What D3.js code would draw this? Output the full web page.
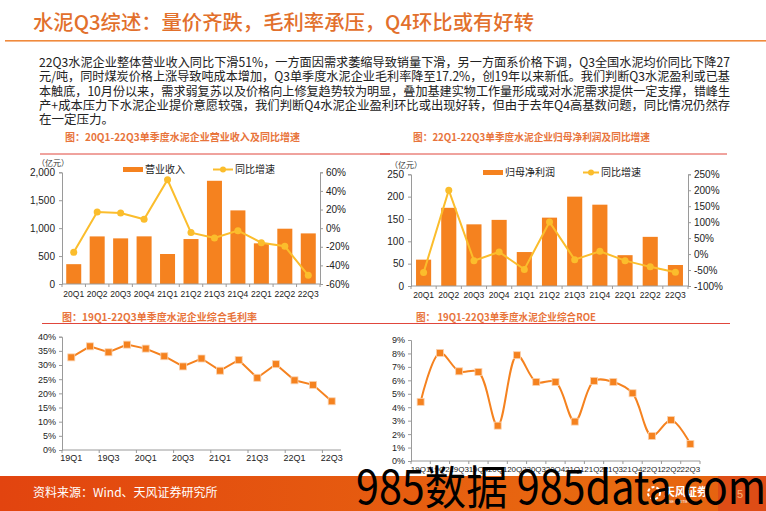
<!DOCTYPE html>
<html>
<head>
<meta charset="utf-8">
<script src="https://cdn.jsdelivr.net/npm/d3@7"></script>
<style>
  body { margin: 0; background: #fff; }
  svg { display: block; font-family: "Liberation Sans", Arial, sans-serif; }
  .cjk { font-family: "Noto Sans CJK SC", sans-serif; }
</style>
</head>
<body>
<svg id="page" width="766" height="511"></svg>
<script>
// ---- data ----
const quarters20 = ["20Q1","20Q2","20Q3","20Q4","21Q1","21Q2","21Q3","21Q4","22Q1","22Q2","22Q3"];
const revenue = [355, 852, 817, 853, 537, 805, 1848, 1318, 728, 990, 906];
const revenueYoy = [-26, 17.4, 16.3, 9.5, 52, -4.8, -10.6, -2.7, -15.6, -19.5, -50.7];
const netProfit = [59, 175, 138, 148, 76, 153, 200, 182, 69, 110, 47];
const profitYoy = [-58, 200, -20.5, 6.6, -48, 100.6, -17.5, 8.7, -20.5, -40, -57];
const quarters19 = ["19Q1","19Q2","19Q3","19Q4","20Q1","20Q2","20Q3","20Q4","21Q1","21Q2","21Q3","21Q4","22Q1","22Q2","22Q3"];
const grossMargin = [32.7, 36.6, 34.5, 37.2, 35.8, 33.1, 29.5, 32.3, 28.0, 31.8, 25.5, 30.3, 24.6, 23.0, 17.2];
const roe = [4.4, 8.04, 6.67, 6.62, 2.63, 7.87, 5.88, 5.88, 2.93, 5.96, 5.88, 5.04, 1.86, 3.05, 1.27];
const paragraph = [
  "22Q3水泥企业整体营业收入同比下滑51%，一方面因需求萎缩导致销量下滑，另一方面系价格下调，Q3全国水泥均价同比下降27",
  "元/吨，同时煤炭价格上涨导致吨成本增加，Q3单季度水泥企业毛利率降至17.2%，创19年以来新低。我们判断Q3水泥盈利或已基",
  "本触底，10月份以来，需求弱复苏以及价格向上修复趋势较为明显，叠加基建实物工作量形成或对水泥需求提供一定支撑，错峰生",
  "产+成本压力下水泥企业提价意愿较强，我们判断Q4水泥企业盈利环比或出现好转，但由于去年Q4高基数问题，同比情况仍然存",
  "在一定压力。"
];

const ORANGE = "#f5821f";
const YELLOW = "#fbbd2c";
const AXIS = "#9a9a9a";
const TITLE_C = "#e8743b";
const RULE_C = "#e0463c";

const svg = d3.select("#page");

// gradient for footer
const defs = svg.append("defs");
const fg = defs.append("linearGradient").attr("id", "foot").attr("x1", 0).attr("x2", 1);
fg.append("stop").attr("offset", "0%").attr("stop-color", "#e2440f");
fg.append("stop").attr("offset", "80%").attr("stop-color", "#e86a10");
fg.append("stop").attr("offset", "100%").attr("stop-color", "#e56010");

// ---- header ----
svg.append("text").attr("class", "cjk")
  .attr("x", 33).attr("y", 30)
  .attr("font-size", 20).attr("font-weight", 500)
  .attr("fill", "#e2702c")
  .attr("textLength", 501).attr("lengthAdjust", "spacingAndGlyphs")
  .text("水泥Q3综述：量价齐跌，毛利率承压，Q4环比或有好转");
svg.append("rect").attr("x", 5).attr("y", 40).attr("width", 761).attr("height", 1.6).attr("fill", "#f08a3c");

paragraph.forEach((line, i) => {
  const t = svg.append("text").attr("class", "cjk")
    .attr("x", 39).attr("y", 67 + i * 14.3)
    .attr("font-size", 12.5).attr("fill", "#222")
    .text(line);
  if (i < 4) t.attr("textLength", 691).attr("lengthAdjust", "spacingAndGlyphs");
});

// ---- helpers ----
function chartTitle(x, y, w, text, ruleX1, ruleX2, ruleY) {
  svg.append("text").attr("class", "cjk")
    .attr("x", x).attr("y", y)
    .attr("font-size", 10).attr("font-weight", 700).attr("fill", TITLE_C)
    .attr("textLength", w).attr("lengthAdjust", "spacingAndGlyphs")
    .text(text);
  svg.append("line").attr("x1", ruleX1).attr("x2", ruleX2)
    .attr("y1", ruleY).attr("y2", ruleY)
    .attr("stroke", RULE_C).attr("stroke-width", 1);
}

function styleAxis(g, fontSize) {
  g.selectAll("path").attr("stroke", AXIS);
  g.selectAll("line").attr("stroke", AXIS);
  g.selectAll("text").attr("fill", "#222").attr("font-size", fontSize)
    .attr("font-family", "'Liberation Sans', Arial, sans-serif");
}

// x axis with ticks on band boundaries
function bandAxis(x, y0, labels, every, fontSize, labelDy) {
  const g = svg.append("g");
  const r = x.range();
  g.append("line").attr("x1", r[0]).attr("x2", r[1]).attr("y1", y0).attr("y2", y0).attr("stroke", AXIS);
  const step = x.step();
  for (let i = 0; i <= labels.length; i += every) {
    const xx = r[0] + i * step;
    g.append("line").attr("x1", xx).attr("x2", xx).attr("y1", y0).attr("y2", y0 + 3).attr("stroke", AXIS);
  }
  labels.forEach((d, i) => {
    if (i % every !== 0) return;
    g.append("text").attr("x", x(d) + x.bandwidth() / 2).attr("y", y0 + labelDy)
      .attr("text-anchor", "middle").attr("font-size", fontSize).attr("fill", "#222")
      .text(d);
  });
}

// ---- chart 1: revenue ----
(function () {
  chartTitle(65, 141, 235, "图：20Q1-22Q3单季度水泥企业营业收入及同比增速", 40, 390, 154);
  const x = d3.scaleBand().domain(quarters20).range([62, 320]).paddingInner(0.36).paddingOuter(0.18);
  const yL = d3.scaleLinear().domain([0, 2000]).range([284, 172.3]);
  const yR = d3.scaleLinear().domain([-60, 60]).range([284, 172.3]);

  svg.append("text").attr("class", "cjk").attr("x", 37).attr("y", 166).attr("font-size", 8).attr("fill", "#333").text("（亿元）");

  svg.append("g").selectAll("rect").data(revenue).join("rect")
    .attr("x", (d, i) => x(quarters20[i])).attr("width", x.bandwidth())
    .attr("y", d => yL(d)).attr("height", d => yL(0) - yL(d))
    .attr("fill", ORANGE);

  const gl = svg.append("g").attr("transform", "translate(62,0)")
    .call(d3.axisLeft(yL).tickValues([0, 500, 1000, 1500, 2000]).tickFormat(d3.format(",")).tickSize(3).tickPadding(4));
  styleAxis(gl, 10);
  const gr = svg.append("g").attr("transform", "translate(320,0)")
    .call(d3.axisRight(yR).tickValues([-60, -40, -20, 0, 20, 40, 60]).tickFormat(d => d + "%").tickSize(3).tickPadding(3));
  styleAxis(gr, 10);
  bandAxis(x, 284, quarters20, 1, 8.5, 13);

  const line = d3.line().x((d, i) => x(quarters20[i]) + x.bandwidth() / 2).y(d => yR(d));
  svg.append("path").datum(revenueYoy).attr("d", line).attr("fill", "none").attr("stroke", YELLOW).attr("stroke-width", 2);
  svg.append("g").selectAll("circle").data(revenueYoy).join("circle")
    .attr("cx", (d, i) => x(quarters20[i]) + x.bandwidth() / 2).attr("cy", d => yR(d))
    .attr("r", 3.5).attr("fill", YELLOW);

  // legend
  svg.append("rect").attr("x", 123).attr("y", 167).attr("width", 20).attr("height", 5).attr("fill", ORANGE);
  svg.append("text").attr("class", "cjk").attr("x", 145).attr("y", 173).attr("font-size", 10).attr("fill", "#222").text("营业收入");
  svg.append("line").attr("x1", 213).attr("x2", 233).attr("y1", 169.5).attr("y2", 169.5).attr("stroke", YELLOW).attr("stroke-width", 2);
  svg.append("circle").attr("cx", 223).attr("cy", 169.5).attr("r", 3).attr("fill", YELLOW);
  svg.append("text").attr("class", "cjk").attr("x", 235).attr("y", 173).attr("font-size", 10).attr("fill", "#222").text("同比增速");
})();

// ---- chart 2: net profit ----
(function () {
  chartTitle(413, 141, 237, "图：22Q1-22Q3单季度水泥企业归母净利润及同比增速", 380, 727, 154);
  const x = d3.scaleBand().domain(quarters20).range([411, 688]).paddingInner(0.4).paddingOuter(0.2);
  const yL = d3.scaleLinear().domain([0, 250]).range([286, 174.3]);
  const yR = d3.scaleLinear().domain([-100, 250]).range([286, 174.3]);

  svg.append("text").attr("class", "cjk").attr("x", 390).attr("y", 168).attr("font-size", 8).attr("fill", "#333").text("（亿元）");

  svg.append("g").selectAll("rect").data(netProfit).join("rect")
    .attr("x", (d, i) => x(quarters20[i])).attr("width", x.bandwidth())
    .attr("y", d => yL(d)).attr("height", d => yL(0) - yL(d))
    .attr("fill", ORANGE);

  const gl = svg.append("g").attr("transform", "translate(411,0)")
    .call(d3.axisLeft(yL).tickValues([0, 50, 100, 150, 200, 250]).tickSize(3).tickPadding(4));
  styleAxis(gl, 10);
  const gr = svg.append("g").attr("transform", "translate(688,0)")
    .call(d3.axisRight(yR).tickValues([-100, -50, 0, 50, 100, 150, 200, 250]).tickFormat(d => d + "%").tickSize(3).tickPadding(3));
  styleAxis(gr, 10);
  bandAxis(x, 286, quarters20, 1, 8.5, 12);

  const line = d3.line().x((d, i) => x(quarters20[i]) + x.bandwidth() / 2).y(d => yR(d));
  svg.append("path").datum(profitYoy).attr("d", line).attr("fill", "none").attr("stroke", YELLOW).attr("stroke-width", 2);
  svg.append("g").selectAll("circle").data(profitYoy).join("circle")
    .attr("cx", (d, i) => x(quarters20[i]) + x.bandwidth() / 2).attr("cy", d => yR(d))
    .attr("r", 3.5).attr("fill", YELLOW);

  svg.append("rect").attr("x", 483).attr("y", 170).attr("width", 20).attr("height", 5).attr("fill", ORANGE);
  svg.append("text").attr("class", "cjk").attr("x", 505).attr("y", 176).attr("font-size", 10).attr("fill", "#222").text("归母净利润");
  svg.append("line").attr("x1", 583).attr("x2", 599).attr("y1", 172.5).attr("y2", 172.5).attr("stroke", YELLOW).attr("stroke-width", 2);
  svg.append("circle").attr("cx", 591).attr("cy", 172.5).attr("r", 3).attr("fill", YELLOW);
  svg.append("text").attr("class", "cjk").attr("x", 601).attr("y", 176).attr("font-size", 10).attr("fill", "#222").text("同比增速");
})();

// ---- chart 3: gross margin ----
(function () {
  chartTitle(62, 321, 195, "图：19Q1-22Q3单季度水泥企业综合毛利率", 42, 390, 323.5);
  const x = d3.scaleBand().domain(quarters19).range([62, 341]);
  const y = d3.scaleLinear().domain([0, 40]).range([450, 336.7]);
  const gl = svg.append("g").attr("transform", "translate(62,0)")
    .call(d3.axisLeft(y).tickValues(d3.range(0, 41, 5)).tickFormat(d => d + "%").tickSize(3).tickPadding(3));
  styleAxis(gl, 9);
  bandAxis(x, 450, quarters19, 2, 9, 11);

  const line = d3.line().x((d, i) => x(quarters19[i]) + x.bandwidth() / 2).y(d => y(d));
  svg.append("path").datum(grossMargin).attr("d", line).attr("fill", "none").attr("stroke", ORANGE).attr("stroke-width", 2);
  svg.append("g").selectAll("rect").data(grossMargin).join("rect")
    .attr("x", (d, i) => x(quarters19[i]) + x.bandwidth() / 2 - 3.5).attr("y", d => y(d) - 3.5)
    .attr("width", 7).attr("height", 7).attr("fill", ORANGE).attr("stroke", "#fbd3b0").attr("stroke-width", 0.8);
})();

// ---- chart 4: ROE ----
(function () {
  chartTitle(416, 321, 180, "图： 19Q1-22Q3单季度水泥企业综合ROE", 380, 730, 323.5);
  const x = d3.scaleBand().domain(quarters19).range([411, 700]);
  const y = d3.scaleLinear().domain([0, 9]).range([461, 340]);
  const gl = svg.append("g").attr("transform", "translate(411,0)")
    .call(d3.axisLeft(y).tickValues(d3.range(0, 10)).tickFormat(d => d + "%").tickSize(3).tickPadding(3));
  styleAxis(gl, 9);
  bandAxis(x, 461, quarters19, 1, 8, 11);

  const line = d3.line().curve(d3.curveCatmullRom.alpha(0.5))
    .x((d, i) => x(quarters19[i]) + x.bandwidth() / 2).y(d => y(d));
  svg.append("path").datum(roe).attr("d", line).attr("fill", "none").attr("stroke", ORANGE).attr("stroke-width", 2);
  svg.append("g").selectAll("rect").data(roe).join("rect")
    .attr("x", (d, i) => x(quarters19[i]) + x.bandwidth() / 2 - 3.5).attr("y", d => y(d) - 3.5)
    .attr("width", 7).attr("height", 7).attr("fill", ORANGE).attr("stroke", "#fbd3b0").attr("stroke-width", 0.8);
})();

// ---- footer ----
svg.append("rect").attr("x", 0).attr("y", 476).attr("width", 766).attr("height", 35).attr("fill", "url(#foot)");
svg.append("rect").attr("x", 718).attr("y", 476).attr("width", 48).attr("height", 35).attr("fill", "#d8401a").attr("opacity", 0.6);
svg.append("text").attr("class", "cjk").attr("x", 33).attr("y", 497).attr("font-size", 12).attr("fill", "#fff")
  .text("资料来源：Wind、天风证券研究所");
svg.append("text").attr("class", "cjk").attr("x", 664).attr("y", 496).attr("font-size", 11).attr("fill", "#fff").attr("font-weight", 700).text("天风证券");
svg.append("text").attr("x", 664).attr("y", 503).attr("font-size", 3.5).attr("fill", "#fff").text("TF SECURITIES");
svg.append("circle").attr("cx", 654).attr("cy", 493).attr("r", 6).attr("fill", "none").attr("stroke", "#fff").attr("stroke-width", 2).attr("stroke-dasharray", "3 2");
svg.append("text").attr("x", 737).attr("y", 498).attr("font-size", 11).attr("fill", "#f7b27a").text("5");

// watermark overlay
svg.append("text").attr("class", "cjk").attr("x", 356).attr("y", 504)
  .attr("font-size", 46).attr("fill", "#000")
  .attr("textLength", 410).attr("lengthAdjust", "spacingAndGlyphs")
  .text("985数据 985data.com");
</script>
</body>
</html>
